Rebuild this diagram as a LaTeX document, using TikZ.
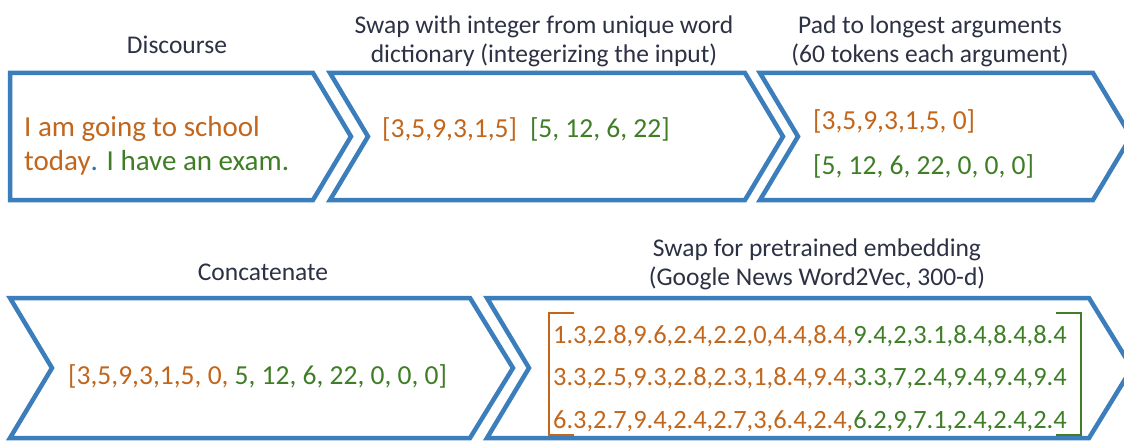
\documentclass[tikz,border=0pt]{standalone}
\usepackage{fontspec}
\setmainfont{Carlito}
\definecolor{flowblue}{HTML}{3B7EBB}
\definecolor{argone}{HTML}{C2661C}
\definecolor{argtwo}{HTML}{3F7E27}
\definecolor{capcol}{HTML}{2C3144}
\definecolor{dotblue}{HTML}{2E6EB5}
\tikzset{
  chevron/.style={draw=flowblue, line width=4.5pt, line join=miter, fill=white},
  steplabel/.style={text=capcol, font=\fontsize{25.5}{29}\selectfont, align=center, inner sep=0pt, anchor=base},
  sentence/.style={font=\fontsize{29}{35}\selectfont, align=left, inner sep=0pt, anchor=base west},
  numbers/.style={font=\fontsize{27.5}{45}\selectfont, align=left, inner sep=0pt, anchor=base west},
  vectors/.style={font=\fontsize{26.4}{42.5}\selectfont, align=left, inner sep=0pt, anchor=base west},
  bracket/.style={line width=1.4pt}
}
\begin{document}
\begin{tikzpicture}[x=1pt,y=-1pt]
\useasboundingbox (0,0) rectangle (1124,441);
\fill[white] (0,0) rectangle (1124,441);

% first row of steps
\draw[chevron] (10,73) -- (313,73) -- (351,136.5) -- (313,200) -- (10,200) -- cycle;
\draw[chevron] (330,73) -- (745,73) -- (783,136.5) -- (745,200) -- (330,200) -- (368,136.5) -- cycle;
\draw[chevron] (760,73) -- (1093,73) -- (1131,136.5) -- (1093,200) -- (760,200) -- (798,136.5) -- cycle;

% second row of steps
\draw[chevron] (10,298) -- (470,298) -- (513,368) -- (470,438) -- (10,438) -- (52,368) -- cycle;
\draw[chevron] (487,298) -- (1089,298) -- (1132,368) -- (1089,438) -- (487,438) -- (529,368) -- cycle;

% step labels (multi-line labels sit on the baseline of their last line)
\node[steplabel] (lab1) at (177,54) {Discourse};
\node[steplabel] (lab2) at (544,63) {Swap with integer from unique word\\dictionary (integerizing the input)};
\node[steplabel] (lab3) at (930,63) {Pad to longest arguments\\(60 tokens each argument)};
\node[steplabel] (lab4) at (263,280) {Concatenate};
\node[steplabel] (lab5) at (817,285) {Swap for pretrained embedding\\(Google News Word2Vec, 300-d)};

% contents
\node[sentence] (txt1) at (24,171) {\textcolor{argone}{I am going to school}\\\textcolor{argone}{today}\textcolor{dotblue}{.} \textcolor{argtwo}{I have an exam.}};
\node[numbers] (txt2) at (382,138) {\textcolor{argone}{[3,5,9,3,1,5]}\hspace{13pt}\textcolor{argtwo}{[5, 12, 6, 22]}};
\node[numbers] (txt3) at (813,175) {\textcolor{argone}{[3,5,9,3,1,5, 0]}\\\textcolor{argtwo}{[5, 12, 6, 22, 0, 0, 0]}};
\node[numbers] (txt4) at (68,384) {\textcolor{argone}{[3,5,9,3,1,5, 0, }\textcolor{argtwo}{5, 12, 6, 22, 0, 0, 0]}};
\node[vectors] (txt5) at (553,428) {%
\textcolor{argone}{1.3,2.8,9.6,2.4,2.2,0,4.4,8.4,}\textcolor{argtwo}{9.4,2,3.1,8.4,8.4,8.4}\\
\textcolor{argone}{3.3,2.5,9.3,2.8,2.3,1,8.4,9.4,}\textcolor{argtwo}{3.3,7,2.4,9.4,9.4,9.4}\\
\textcolor{argone}{6.3,2.7,9.4,2.4,2.7,3,6.4,2.4,}\textcolor{argtwo}{6.2,9,7.1,2.4,2.4,2.4}};

% matrix brackets
\coordinate (bl) at (549,313);
\coordinate (br) at (1081,313);
\draw[bracket, argone] ([xshift=25pt]bl) -- (bl) -- ++(0,122) -- ++(25,0);
\draw[bracket, argtwo] ([xshift=-25pt]br) -- (br) -- ++(0,122) -- ++(-25,0);
\end{tikzpicture}
\end{document}
